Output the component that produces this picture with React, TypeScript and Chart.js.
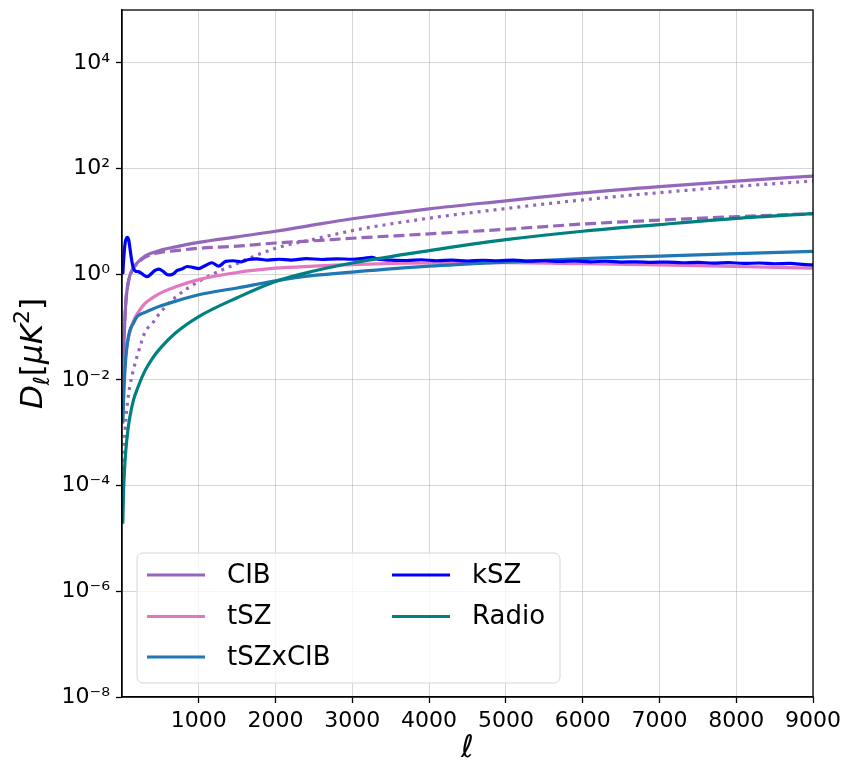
import React, { useEffect, useRef } from 'react';
import { Chart, registerables } from 'chart.js';

Chart.register(...registerables);

// multipole grid for the smooth components
const ELL = [10, 20, 30, 50, 75, 100, 150, 200, 300, 400, 500, 700, 1000, 1500, 2000, 2500, 3000, 4000, 5000, 6000, 7000, 8000, 9000];

const CIB_TOTAL = [0.008, 0.03, 0.08, 0.3, 0.62, 0.92, 1.33, 1.65, 2.2, 2.55, 2.85, 3.3, 4.0, 5.1, 6.5, 8.6, 11.2, 17.3, 24.5, 34.5, 45.5, 58, 72];
const CIB_CLUSTERED = [0.008, 0.03, 0.08, 0.3, 0.62, 0.9, 1.3, 1.6, 2.1, 2.4, 2.6, 2.8, 3.1, 3.4, 3.9, 4.3, 4.8, 5.8, 7.1, 8.9, 10.6, 12.3, 14.0];
const CIB_POISSON = [0.00007, 0.0003, 0.00065, 0.0018, 0.0041, 0.0073, 0.016, 0.029, 0.08, 0.12, 0.19, 0.37, 0.73, 1.6, 3.1, 4.6, 6.7, 11.5, 17.5, 25.5, 35, 46, 58];
const TSZ = [0.002, 0.007, 0.013, 0.03, 0.055, 0.078, 0.13, 0.18, 0.28, 0.36, 0.44, 0.58, 0.79, 1.08, 1.3, 1.42, 1.52, 1.63, 1.65, 1.58, 1.5, 1.4, 1.3];
const TSZ_X_CIB = [0.0015, 0.004, 0.009, 0.027, 0.055, 0.085, 0.12, 0.16, 0.19, 0.22, 0.25, 0.31, 0.41, 0.55, 0.75, 0.95, 1.1, 1.42, 1.7, 1.98, 2.2, 2.45, 2.7];
const RADIO = [0.000019, 0.000075, 0.00017, 0.00047, 0.00106, 0.0019, 0.0042, 0.0068, 0.015, 0.026, 0.04, 0.078, 0.158, 0.36, 0.73, 1.15, 1.63, 2.8, 4.5, 6.5, 8.7, 11.4, 14];

// kSZ has its own, finer grid (wiggly curve)
const KSZ_ELL = [10, 25, 40, 55, 70, 85, 100, 120, 145, 175, 210, 250, 290, 330, 380, 430, 480, 540, 600, 660, 720, 780, 850, 920, 1000, 1080, 1170, 1260, 1350, 1450, 1550, 1650, 1750, 1900, 2050, 2200, 2400, 2600, 2800, 3000, 3150, 3250, 3350, 3500, 3700, 3900, 4100, 4300, 4500, 4700, 4900, 5100, 5300, 5500, 5700, 5900, 6100, 6300, 6500, 6700, 6900, 7100, 7300, 7500, 7700, 7900, 8100, 8300, 8500, 8700, 8900, 9000];
const KSZ = [1.0, 2.2, 3.8, 4.7, 5.0, 4.6, 3.4, 2.1, 1.35, 1.15, 1.12, 1.05, 0.95, 0.9, 1.02, 1.18, 1.25, 1.12, 0.97, 1.0, 1.18, 1.25, 1.4, 1.35, 1.28, 1.45, 1.65, 1.42, 1.75, 1.8, 1.72, 1.9, 1.95, 1.85, 1.92, 1.85, 1.98, 1.9, 1.96, 1.92, 2.0, 2.08, 1.9, 1.85, 1.82, 1.88, 1.8, 1.85, 1.78, 1.84, 1.8, 1.85, 1.77, 1.8, 1.75, 1.78, 1.72, 1.76, 1.7, 1.72, 1.68, 1.7, 1.65, 1.68, 1.62, 1.66, 1.6, 1.63, 1.58, 1.6, 1.52, 1.5];

const X_TICKS = [1000, 2000, 3000, 4000, 5000, 6000, 7000, 8000, 9000];
const X_TICK_LABELS = ['1000', '2000', '3000', '4000', '5000', '6000', '7000', '8000', '9000'];
const Y_TICKS = [1e-8, 1e-6, 1e-4, 1e-2, 1, 1e2, 1e4];
const Y_TICK_LABELS = ['10⁻⁸', '10⁻⁶', '10⁻⁴', '10⁻²', '10⁰', '10²', '10⁴'];

const LEGEND_LABELS = ['CIB', 'tSZ', 'tSZxCIB', 'kSZ', 'Radio'];
const LEGEND_COLORS = ['#9467bd', '#e377c2', '#1f77b4', '#0000ff', '#008080'];

const FONT = '"DejaVu Sans", "Liberation Sans", sans-serif';
const LW = 3.2;

const xy = (xs: number[], ys: number[]) => xs.map((x, i) => ({ x, y: ys[i] }));

const framePlugin = {
  id: 'frame',
  afterDatasetsDraw(chart: any) {
    const { ctx, chartArea: a } = chart;
    ctx.save();
    ctx.strokeStyle = '#000';
    ctx.lineWidth = 1.3;
    ctx.strokeRect(a.left, a.top, a.right - a.left, a.bottom - a.top);
    ctx.restore();
  },
};

const titlesPlugin = {
  id: 'titles',
  afterDraw(chart: any) {
    const { ctx, chartArea: a } = chart;
    ctx.save();
    ctx.fillStyle = '#000';
    // x title
    ctx.font = `italic 31px ${FONT}`;
    ctx.textAlign = 'center';
    ctx.textBaseline = 'alphabetic';
    ctx.fillText('ℓ', (a.left + a.right) / 2, 757);
    // y title
    ctx.translate(31, (a.top + a.bottom) / 2);
    ctx.rotate(-Math.PI / 2);
    const parts = [
      { t: 'D', f: `italic 31px ${FONT}`, dy: 0 },
      { t: 'ℓ', f: `italic 22px ${FONT}`, dy: 7 },
      { t: '[', f: `31px ${FONT}`, dy: 0 },
      { t: 'μK', f: `italic 31px ${FONT}`, dy: 0 },
      { t: '2', f: `22px ${FONT}`, dy: -13 },
      { t: ']', f: `31px ${FONT}`, dy: 0 },
    ];
    let total = 0;
    const widths = parts.map((p) => {
      ctx.font = p.f;
      const w = ctx.measureText(p.t).width;
      total += w;
      return w;
    });
    let x = -total / 2;
    ctx.textAlign = 'left';
    parts.forEach((p, i) => {
      ctx.font = p.f;
      ctx.fillText(p.t, x, 11 + p.dy);
      x += widths[i];
    });
    ctx.restore();
  },
};

const legendPlugin = {
  id: 'customLegend',
  afterDraw(chart: any) {
    const { ctx, chartArea: a } = chart;
    const left = a.left + 15;
    const bottom = a.bottom - 14;
    const w = 423;
    const h = 130;
    const top = bottom - h;
    const r = 6;
    ctx.save();
    ctx.beginPath();
    ctx.moveTo(left + r, top);
    ctx.lineTo(left + w - r, top);
    ctx.arcTo(left + w, top, left + w, top + r, r);
    ctx.lineTo(left + w, bottom - r);
    ctx.arcTo(left + w, bottom, left + w - r, bottom, r);
    ctx.lineTo(left + r, bottom);
    ctx.arcTo(left, bottom, left, bottom - r, r);
    ctx.lineTo(left, top + r);
    ctx.arcTo(left, top, left + r, top, r);
    ctx.closePath();
    ctx.fillStyle = 'rgba(255,255,255,0.8)';
    ctx.fill();
    ctx.strokeStyle = '#d6d6d6';
    ctx.lineWidth = 1;
    ctx.stroke();

    const rows = [22, 63.5, 104];
    const cols = [10, 255];
    ctx.font = `26px ${FONT}`;
    ctx.textBaseline = 'middle';
    ctx.textAlign = 'left';
    LEGEND_LABELS.forEach((lab, i) => {
      const col = i < 3 ? 0 : 1;
      const row = i < 3 ? i : i - 3;
      const lx = left + cols[col];
      const ly = top + rows[row];
      ctx.strokeStyle = LEGEND_COLORS[i];
      ctx.lineWidth = LW;
      ctx.beginPath();
      ctx.moveTo(lx, ly);
      ctx.lineTo(lx + 58, ly);
      ctx.stroke();
      ctx.fillStyle = '#000';
      ctx.fillText(lab, lx + 80, ly + 1);
    });
    ctx.restore();
  },
};

export default function App() {
  const ref = useRef<HTMLCanvasElement | null>(null);

  useEffect(() => {
    if (!ref.current) return;
    const line = (label: string, xs: number[], ys: number[], color: string, order: number, dash: number[] = []) => ({
      label,
      data: xy(xs, ys),
      borderColor: color,
      backgroundColor: color,
      borderWidth: LW,
      borderDash: dash,
      pointRadius: 0,
      fill: false,
      cubicInterpolationMode: 'monotone' as const,
      order,
    });
    const chart = new Chart(ref.current, {
      type: 'line',
      data: {
        datasets: [
          line('CIB', ELL, CIB_TOTAL, LEGEND_COLORS[0], 6),
          line('CIB clustered', ELL, CIB_CLUSTERED, LEGEND_COLORS[0], 5, [11, 5]),
          line('CIB Poisson', ELL, CIB_POISSON, LEGEND_COLORS[0], 4, [3, 5]),
          line('tSZ', ELL, TSZ, LEGEND_COLORS[1], 3),
          line('tSZxCIB', ELL, TSZ_X_CIB, LEGEND_COLORS[2], 2),
          line('kSZ', KSZ_ELL, KSZ, LEGEND_COLORS[3], 1),
          line('Radio', ELL, RADIO, LEGEND_COLORS[4], 0),
        ],
      },
      options: {
        responsive: false,
        animation: false,
        devicePixelRatio: 1,
        layout: { padding: { top: 10, right: 31, left: 0, bottom: 0 } },
        plugins: { legend: { display: false }, tooltip: { enabled: false } },
        elements: { point: { radius: 0 } },
        scales: {
          x: {
            type: 'linear',
            min: 0,
            max: 9000,
            afterBuildTicks: (s: any) => {
              s.ticks = X_TICKS.map((v) => ({ value: v }));
            },
            afterFit: (s: any) => {
              s.height = 65;
              s.paddingRight = 0;
            },
            ticks: {
              autoSkip: false,
              maxRotation: 0,
              padding: 5,
              color: '#000',
              font: { family: FONT, size: 22 },
              callback: (v: any) => {
                const i = X_TICKS.indexOf(Number(v));
                return i >= 0 ? X_TICK_LABELS[i] : '';
              },
            },
            grid: {
              color: 'rgba(176,176,176,0.5)',
              lineWidth: 1,
              tickColor: '#000',
              tickLength: 6,
              tickWidth: 1.3,
            },
            border: { display: true, color: '#000', width: 1.3 },
          },
          y: {
            type: 'logarithmic',
            min: 1e-8,
            max: 1e5,
            afterBuildTicks: (s: any) => {
              s.ticks = Y_TICKS.map((v) => ({ value: v }));
            },
            afterFit: (s: any) => {
              s.width = 122;
              s.paddingTop = 0;
              s.paddingBottom = 0;
            },
            ticks: {
              autoSkip: false,
              padding: 6,
              color: '#000',
              font: { family: FONT, size: 22 },
              callback: (v: any) => {
                const lv = Math.log10(Number(v));
                const i = Y_TICKS.findIndex((t) => Math.abs(Math.log10(t) - lv) < 1e-6);
                return i >= 0 ? Y_TICK_LABELS[i] : '';
              },
            },
            grid: {
              color: 'rgba(176,176,176,0.5)',
              lineWidth: 1,
              tickColor: '#000',
              tickLength: 6,
              tickWidth: 1.3,
            },
            border: { display: true, color: '#000', width: 1.3 },
          },
        },
      },
      plugins: [framePlugin, titlesPlugin, legendPlugin],
    } as any);
    return () => chart.destroy();
  }, []);

  return (
    <div style={{ position: 'fixed', left: 0, top: 0, width: 844, height: 762, background: '#fff' }}>
      <canvas ref={ref} width={844} height={762} style={{ display: 'block', width: 844, height: 762 }} />
    </div>
  );
}
